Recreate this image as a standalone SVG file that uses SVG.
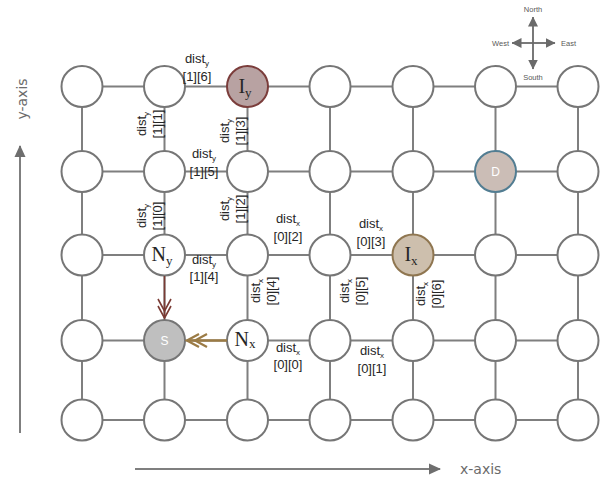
<svg xmlns="http://www.w3.org/2000/svg" width="608" height="484" viewBox="0 0 608 484">
  <style>
    .grid line { stroke: #7f7f7f; stroke-width: 2; }
    .node circle { fill: #ffffff; stroke: #767676; stroke-width: 2; }
    .lbl { font-family: "Liberation Sans", Arial, sans-serif; font-size: 13px; fill: #262626; text-anchor: middle; }
    .sub { font-size: 8px; }
    .serif { font-family: "Liberation Serif", "Times New Roman", serif; font-size: 20px; fill: #262626; text-anchor: middle; }
    .serif .s { font-size: 13px; }
    .white { font-family: "Liberation Sans", Arial, sans-serif; font-size: 12px; fill: #ffffff; text-anchor: middle; }
    .axis { font-family: "DejaVu Sans", Verdana, sans-serif; font-size: 14px; fill: #6b6b6b; }
    .cmp { font-family: "Liberation Sans", Arial, sans-serif; font-size: 7.5px; fill: #595959; }
  </style>
  <defs>
    <marker id="dbl-red" markerUnits="userSpaceOnUse" markerWidth="22" markerHeight="16" viewBox="0 0 22 16" refX="20" refY="8" orient="auto">
      <path d="M8,1.5 L20,8 L8,14.5 M1,1.5 L13,8 L1,14.5" fill="none" stroke="#7a3b34" stroke-width="1.6"/>
    </marker>
    <marker id="dbl-gold" markerUnits="userSpaceOnUse" markerWidth="24" markerHeight="16" viewBox="0 0 24 16" refX="22" refY="8" orient="auto">
      <path d="M10,1.5 L22,8 L10,14.5 M2,1.5 L14,8 L2,14.5" fill="none" stroke="#9b7b45" stroke-width="2.2"/>
    </marker>
    <marker id="tri-axis" markerUnits="userSpaceOnUse" markerWidth="12" markerHeight="12" viewBox="0 0 12 12" refX="11" refY="6" orient="auto">
      <path d="M0,0.5 L12,6 L0,11.5 Z" fill="#6e6e6e"/>
    </marker>
    <marker id="tri-cmp" markerUnits="userSpaceOnUse" markerWidth="10" markerHeight="10" viewBox="0 0 10 10" refX="9.5" refY="5" orient="auto">
      <path d="M0,0 L10,5 L0,10 Z" fill="#6a6a6a"/>
    </marker>
  </defs>

  <!-- grid connectors -->
  <g id="connectors" class="grid">
    <line x1="82" y1="86.5" x2="578" y2="86.5"/>
    <line x1="82" y1="171.5" x2="578" y2="171.5"/>
    <line x1="82" y1="255" x2="578" y2="255"/>
    <line x1="82" y1="340.5" x2="578" y2="340.5"/>
    <line x1="82" y1="420" x2="578" y2="420"/>
    <line x1="82" y1="86.5" x2="82" y2="420"/>
    <line x1="164.5" y1="86.5" x2="164.5" y2="420"/>
    <line x1="247.5" y1="86.5" x2="247.5" y2="420"/>
    <line x1="330" y1="86.5" x2="330" y2="420"/>
    <line x1="413" y1="86.5" x2="413" y2="420"/>
    <line x1="495.5" y1="86.5" x2="495.5" y2="420"/>
    <line x1="578" y1="86.5" x2="578" y2="420"/>
  </g>

  <!-- nodes: row 1 -->
  <g id="n-1-1" class="node"><circle cx="82" cy="86.5" r="20.5"/></g>
  <g id="n-1-2" class="node"><circle cx="164.5" cy="86.5" r="20.5"/></g>
  <g id="n-Iy" class="node"><circle cx="247.5" cy="86.5" r="20.5" style="fill:#b8a2a2;stroke:#7b3d3b"/>
    <text class="serif" x="245" y="93">I<tspan class="s" dy="4">y</tspan></text></g>
  <g id="n-1-4" class="node"><circle cx="330" cy="86.5" r="20.5"/></g>
  <g id="n-1-5" class="node"><circle cx="413" cy="86.5" r="20.5"/></g>
  <g id="n-1-6" class="node"><circle cx="495.5" cy="86.5" r="20.5"/></g>
  <g id="n-1-7" class="node"><circle cx="578" cy="86.5" r="20.5"/></g>

  <!-- row 2 -->
  <g id="n-2-1" class="node"><circle cx="82" cy="171.5" r="20.5"/></g>
  <g id="n-2-2" class="node"><circle cx="164.5" cy="171.5" r="20.5"/></g>
  <g id="n-2-3" class="node"><circle cx="247.5" cy="171.5" r="20.5"/></g>
  <g id="n-2-4" class="node"><circle cx="330" cy="171.5" r="20.5"/></g>
  <g id="n-2-5" class="node"><circle cx="413" cy="171.5" r="20.5"/></g>
  <g id="n-D" class="node"><circle cx="495.5" cy="171.5" r="20.5" style="fill:#cbbdb6;stroke:#527d92"/>
    <text class="white" x="495.5" y="176">D</text></g>
  <g id="n-2-7" class="node"><circle cx="578" cy="171.5" r="20.5"/></g>

  <!-- row 3 -->
  <g id="n-3-1" class="node"><circle cx="82" cy="255" r="20.5"/></g>
  <g id="n-Ny" class="node"><circle cx="164.5" cy="255" r="20.5"/>
    <text class="serif" x="162" y="261">N<tspan class="s" dy="4">y</tspan></text></g>
  <g id="n-3-3" class="node"><circle cx="247.5" cy="255" r="20.5"/></g>
  <g id="n-3-4" class="node"><circle cx="330" cy="255" r="20.5"/></g>
  <g id="n-Ix" class="node"><circle cx="413" cy="255" r="20.5" style="fill:#cdbfad;stroke:#8f7650"/>
    <text class="serif" x="411" y="261">I<tspan class="s" dy="4">x</tspan></text></g>
  <g id="n-3-6" class="node"><circle cx="495.5" cy="255" r="20.5"/></g>
  <g id="n-3-7" class="node"><circle cx="578" cy="255" r="20.5"/></g>

  <!-- row 4 -->
  <g id="n-4-1" class="node"><circle cx="82" cy="340.5" r="20.5"/></g>
  <g id="n-S" class="node"><circle cx="164.5" cy="340.5" r="20.5" style="fill:#bfbfbf;stroke:#767676"/>
    <text class="white" x="164.5" y="345">S</text></g>
  <g id="n-Nx" class="node"><circle cx="247.5" cy="340.5" r="20.5"/>
    <text class="serif" x="245" y="346">N<tspan class="s" dy="2">x</tspan></text></g>
  <g id="n-4-4" class="node"><circle cx="330" cy="340.5" r="20.5"/></g>
  <g id="n-4-5" class="node"><circle cx="413" cy="340.5" r="20.5"/></g>
  <g id="n-4-6" class="node"><circle cx="495.5" cy="340.5" r="20.5"/></g>
  <g id="n-4-7" class="node"><circle cx="578" cy="340.5" r="20.5"/></g>

  <!-- row 5 -->
  <g id="n-5-1" class="node"><circle cx="82" cy="420" r="20.5"/></g>
  <g id="n-5-2" class="node"><circle cx="164.5" cy="420" r="20.5"/></g>
  <g id="n-5-3" class="node"><circle cx="247.5" cy="420" r="20.5"/></g>
  <g id="n-5-4" class="node"><circle cx="330" cy="420" r="20.5"/></g>
  <g id="n-5-5" class="node"><circle cx="413" cy="420" r="20.5"/></g>
  <g id="n-5-6" class="node"><circle cx="495.5" cy="420" r="20.5"/></g>
  <g id="n-5-7" class="node"><circle cx="578" cy="420" r="20.5"/></g>

  <!-- neighbour-to-source arrows -->
  <g id="flow-arrows">
    <line x1="164.5" y1="276" x2="164.5" y2="318" stroke="#7a3b34" stroke-width="1.6" marker-end="url(#dbl-red)"/>
    <line x1="227" y1="340.5" x2="187" y2="340.5" stroke="#9b7b45" stroke-width="2.4" marker-end="url(#dbl-gold)"/>
  </g>

  <!-- edge distance labels, horizontal -->
  <g id="edge-labels">
    <text class="lbl" x="197" y="63">dist<tspan class="sub" dy="3">y</tspan></text>
    <text class="lbl" x="197" y="81">[1][6]</text>
    <text class="lbl" x="204" y="158">dist<tspan class="sub" dy="3">y</tspan></text>
    <text class="lbl" x="204" y="176">[1][5]</text>
    <text class="lbl" x="288" y="223">dist<tspan class="sub" dy="3">x</tspan></text>
    <text class="lbl" x="288" y="241">[0][2]</text>
    <text class="lbl" x="204" y="264">dist<tspan class="sub" dy="3">y</tspan></text>
    <text class="lbl" x="204" y="281">[1][4]</text>
    <text class="lbl" x="371" y="228">dist<tspan class="sub" dy="3">x</tspan></text>
    <text class="lbl" x="371" y="246">[0][3]</text>
    <text class="lbl" x="288" y="352">dist<tspan class="sub" dy="3">x</tspan></text>
    <text class="lbl" x="288" y="369">[0][0]</text>
    <text class="lbl" x="372" y="355">dist<tspan class="sub" dy="3">x</tspan></text>
    <text class="lbl" x="372" y="373">[0][1]</text>

    <!-- vertical edges, rotated -->
    <g transform="translate(146,124) rotate(-90)">
      <text class="lbl" x="0" y="0">dist<tspan class="sub" dy="3">y</tspan></text>
      <text class="lbl" x="0" y="16">[1][1]</text>
    </g>
    <g transform="translate(229,131) rotate(-90)">
      <text class="lbl" x="0" y="0">dist<tspan class="sub" dy="3">y</tspan></text>
      <text class="lbl" x="0" y="16">[1][3]</text>
    </g>
    <g transform="translate(146,216) rotate(-90)">
      <text class="lbl" x="0" y="0">dist<tspan class="sub" dy="3">y</tspan></text>
      <text class="lbl" x="0" y="16">[1][0]</text>
    </g>
    <g transform="translate(229,209) rotate(-90)">
      <text class="lbl" x="0" y="0">dist<tspan class="sub" dy="3">y</tspan></text>
      <text class="lbl" x="0" y="16">[1][2]</text>
    </g>
    <g transform="translate(260,291) rotate(-90)">
      <text class="lbl" x="0" y="0">dist<tspan class="sub" dy="3">x</tspan></text>
      <text class="lbl" x="0" y="16">[0][4]</text>
    </g>
    <g transform="translate(349,291) rotate(-90)">
      <text class="lbl" x="0" y="0">dist<tspan class="sub" dy="3">x</tspan></text>
      <text class="lbl" x="0" y="16">[0][5]</text>
    </g>
    <g transform="translate(425,294) rotate(-90)">
      <text class="lbl" x="0" y="0">dist<tspan class="sub" dy="3">x</tspan></text>
      <text class="lbl" x="0" y="16">[0][6]</text>
    </g>
  </g>

  <!-- axes -->
  <g id="axes">
    <line x1="20" y1="433" x2="20" y2="146" stroke="#7f7f7f" stroke-width="2" marker-end="url(#tri-axis)"/>
    <text class="axis" transform="translate(27,99) rotate(-90)" text-anchor="middle">y-axis</text>
    <line x1="135" y1="469" x2="440" y2="469" stroke="#7f7f7f" stroke-width="2" marker-end="url(#tri-axis)"/>
    <text class="axis" x="460" y="474">x-axis</text>
  </g>

  <!-- compass -->
  <g id="compass">
    <line x1="533" y1="43" x2="533" y2="17" stroke="#6a6a6a" stroke-width="1.8" marker-end="url(#tri-cmp)"/>
    <line x1="533" y1="43" x2="533" y2="69" stroke="#6a6a6a" stroke-width="1.8" marker-end="url(#tri-cmp)"/>
    <line x1="533" y1="43" x2="512" y2="43" stroke="#6a6a6a" stroke-width="1.8" marker-end="url(#tri-cmp)"/>
    <line x1="533" y1="43" x2="555" y2="43" stroke="#6a6a6a" stroke-width="1.8" marker-end="url(#tri-cmp)"/>
    <text class="cmp" x="533" y="12" text-anchor="middle">North</text>
    <text class="cmp" x="533" y="80" text-anchor="middle">South</text>
    <text class="cmp" x="561" y="46">East</text>
    <text class="cmp" x="509" y="46" text-anchor="end">West</text>
  </g>
</svg>
